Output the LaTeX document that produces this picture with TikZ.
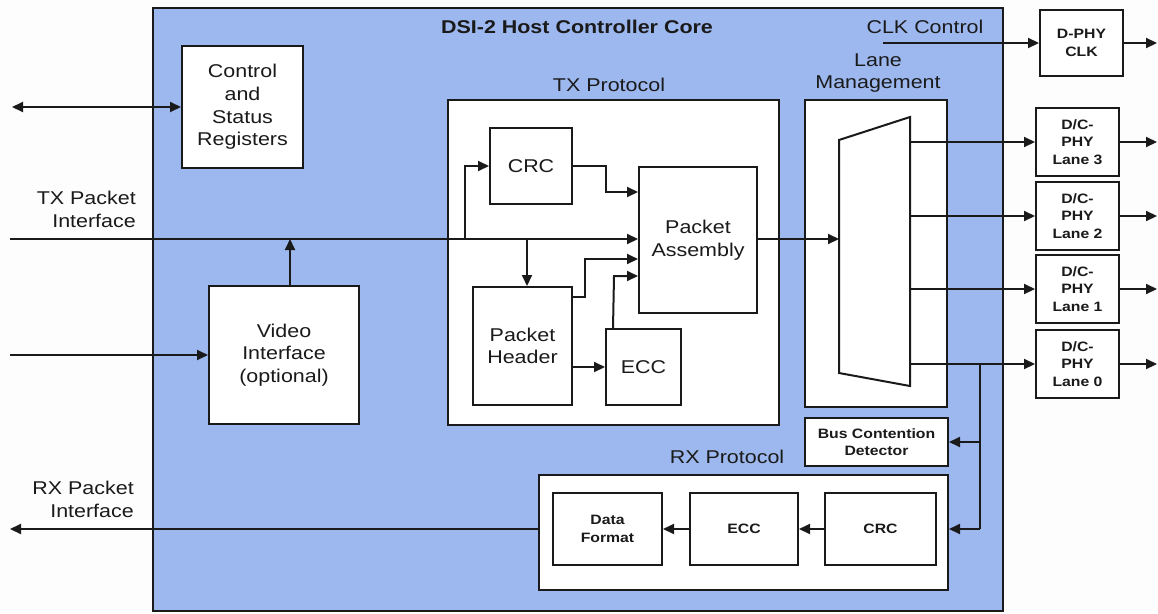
\documentclass[tikz,border=0pt]{standalone}
\usepackage{fontspec}
\setmainfont[FakeStretch=1.16]{Liberation Sans}
\usetikzlibrary{arrows.meta,calc}

\definecolor{corefill}{HTML}{9DB8EE}
\definecolor{ink}{HTML}{1A1A1A}
\definecolor{paper}{HTML}{FDFDFD}

\newcommand\bigf{\fontsize{18.5}{22.6}\selectfont}
\newcommand\smallf{\fontsize{13.6}{17.3}\selectfont\bfseries}

\begin{document}
\begin{tikzpicture}[x=1pt,y=-1pt,
  wire/.style={draw=ink, line width=2pt},
  arr/.style={wire, -{Triangle[length=11pt,width=10pt]}},
  biarr/.style={wire, {Triangle[length=11pt,width=10pt]}-{Triangle[length=11pt,width=10pt]}},
  blk/.style={draw=ink, line width=2pt, fill=white, inner sep=0pt, align=center,
              text=ink, font=\bigf},
  sblk/.style={blk, font=\smallf},
  lbl/.style={text=ink, font=\bigf, inner sep=0pt, align=center}]

% canvas
\fill[paper] (0,0) rectangle (1158,613);
\useasboundingbox (0,0) rectangle (1158,613);

% core
\node[blk, fill=corefill, minimum width=850pt, minimum height=603pt] (core) at (578,309.5) {};
\node[lbl, font=\bigf\bfseries] (title) at (577,27) {DSI-2 Host Controller Core};
\node[lbl] (clkctl) at (925,27) {CLK Control};

% registers and video
\node[blk, minimum width=121pt, minimum height=122pt] (csr) at (242.5,107) {Control\\and\\Status\\Registers};
\node[blk, minimum width=150pt, minimum height=138pt] (video) at (284,355) {Video\\Interface\\(optional)};

% TX protocol
\node[lbl] (txplbl) at (609,85) {TX Protocol};
\node[blk, minimum width=331pt, minimum height=325pt] (txp) at (613.5,262.5) {};
\node[blk, minimum width=82pt, minimum height=76pt] (crc) at (531,166) {CRC};
\node[blk, minimum width=118pt, minimum height=146pt] (pa) at (698,240) {Packet\\Assembly};
\node[blk, minimum width=99pt, minimum height=118pt] (ph) at (522.5,346) {Packet\\Header};
\node[blk, minimum width=75pt, minimum height=76pt] (ecc) at (643.5,367) {ECC};

% lane management
\node[lbl] (lmlbl) at (878,73) {Lane\\Management};
\node[blk, minimum width=142pt, minimum height=307pt] (lm) at (876,253.5) {};
\draw[wire, fill=white] (839,140) coordinate (mux1) -- (910,117) coordinate (mux2)
  -- (910,386) coordinate (mux3) -- (839,373) coordinate (mux4) -- cycle;
\coordinate (muxin) at (839,239);
\coordinate (mr) at (910,0);

\node[sblk, minimum width=143pt, minimum height=48pt] (bcd) at (876.5,442) {Bus Contention\\Detector};

% RX protocol
\node[lbl] (rxplbl) at (727,457) {RX Protocol};
\node[blk, minimum width=409pt, minimum height=115pt] (rxp) at (743.5,532.5) {};
\node[sblk, minimum width=109pt, minimum height=72pt] (df) at (607.5,529) {Data\\Format};
\node[sblk, minimum width=108pt, minimum height=72pt] (recc) at (744,529) {ECC};
\node[sblk, minimum width=111pt, minimum height=72pt] (rcrc) at (880.5,529) {CRC};

% PHY blocks
\node[sblk, minimum width=83pt, minimum height=66pt] (dclk) at (1081.5,43) {D-PHY\\CLK};
\node[sblk, minimum width=83pt, minimum height=68pt] (lane3) at (1077.5,142) {D/C-\\PHY\\Lane 3};
\node[sblk, minimum width=83pt, minimum height=68pt] (lane2) at (1077.5,216) {D/C-\\PHY\\Lane 2};
\node[sblk, minimum width=83pt, minimum height=68pt] (lane1) at (1077.5,289) {D/C-\\PHY\\Lane 1};
\node[sblk, minimum width=83pt, minimum height=68pt] (lane0) at (1077.5,364) {D/C-\\PHY\\Lane 0};

% external interface labels
\node[lbl, align=right, anchor=east] (txlbl) at (136,209.5) {TX Packet\\Interface};
\node[lbl, align=right, anchor=east] (rxlbl) at (134,499.5) {RX Packet\\Interface};

% external ends
\coordinate (csrext) at (12,107);
\coordinate (txin) at (10,239);
\coordinate (vidin) at (10,355);
\coordinate (rxout) at (10,529);
\coordinate (outx) at (1157,0);
\coordinate (clksrc) at (883,43);

% host side connections
\draw[biarr] (csrext) -- (csr.west);
\draw[arr] (vidin) -- (video.west);
\draw[arr] (txin) -- (txin -| pa.west);
\coordinate (vtop) at ($(video.north)+(6,0)$);
\draw[arr] (vtop) -- (vtop |- txin);

% TX protocol internals
\coordinate (j1) at (465,239);
\coordinate (j2) at (527,239);
\draw[arr] (j1) |- (crc.west);
\draw[arr] (j2) -- (j2 |- ph.north);
\coordinate (c1) at (606,192);
\draw[arr] (crc.east) -| (c1) -- (c1 -| pa.west);
\coordinate (c2) at (585,259);
\draw[arr] ([yshift=-11pt]ph.north east) -| (c2) -- (c2 -| pa.west);
\draw[arr] (ph.east |- ecc.west) -- (ecc.west);
\coordinate (c3) at (614,276);
\draw[arr] ([xshift=8pt]ecc.north west) -- (c3) -- (c3 -| pa.west);
\draw[arr] (txin -| pa.east) -- (muxin);

% lanes
\draw[arr] (clksrc) -- (clksrc -| dclk.west);
\draw[arr] (dclk.east) -- (dclk.east -| outx);
\foreach \l in {lane3,lane2,lane1,lane0}{
  \draw[arr] (mr |- \l.west) -- (\l.west);
  \draw[arr] (\l.east) -- (\l.east -| outx);
}

% receive path
\coordinate (tap) at (980,0);
\draw[wire] (tap |- lane0.west) -- (tap |- rcrc.center);
\draw[arr] (tap |- bcd.east) -- (bcd.east);
\draw[arr] (tap |- rcrc.center) -- (rxp.east |- rcrc.center);
\draw[arr] (rcrc.west) -- (recc.east);
\draw[arr] (recc.west) -- (df.east);
\draw[arr] (rxp.west |- df.center) -- (rxout);
\end{tikzpicture}
\end{document}
